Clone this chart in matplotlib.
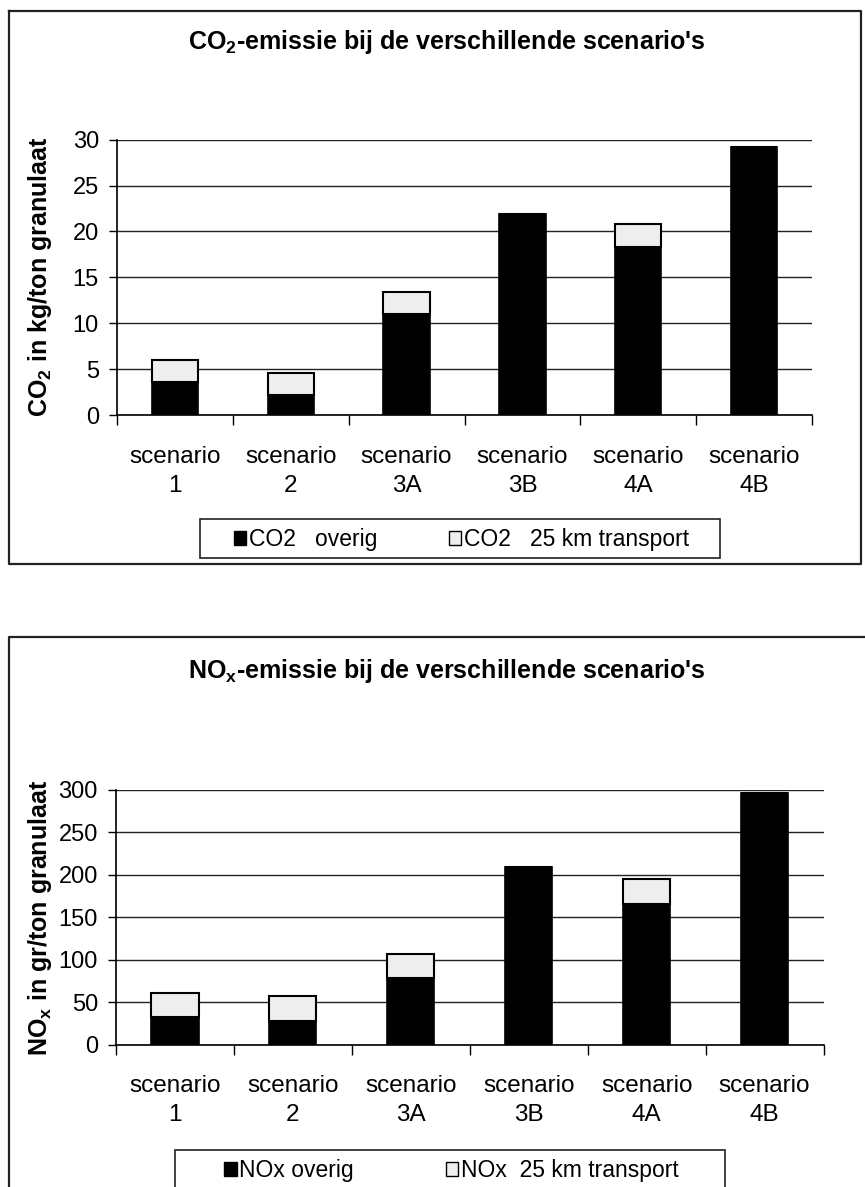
import matplotlib
matplotlib.use("Agg")
import matplotlib.pyplot as plt
from matplotlib.patches import Rectangle, Patch
from matplotlib.lines import Line2D

plt.rcParams['font.family'] = ['Liberation Sans', 'DejaVu Sans']
plt.rcParams['mathtext.fontset'] = 'custom'
plt.rcParams['mathtext.rm'] = 'Liberation Sans'
plt.rcParams['mathtext.bf'] = 'Liberation Sans:bold'

# data
scenarios = ['scenario\n1', 'scenario\n2', 'scenario\n3A',
             'scenario\n3B', 'scenario\n4A', 'scenario\n4B']
co2_overig = [3.65, 2.2, 11.05, 21.85, 18.35, 29.2]
co2_transport = [2.4, 2.45, 2.4, 0, 2.45, 0]
nox_overig = [32, 28, 78, 209, 166, 297]
nox_transport = [29, 29, 29, 0, 29, 0]

W, H = 865, 1187
fig = plt.figure(figsize=(W / 100, H / 100), dpi=100)


def fx(x):
    return x / W


def fy(y):
    return 1 - y / H


def frame_line(xs, ys):
    fig.add_artist(Line2D([fx(v) for v in xs], [fy(v) for v in ys],
                          color='#222222', lw=1.6))


def bar_chart(box, overig, transport, ymax, step):
    l, t, r, b = box
    ax = fig.add_axes([fx(l), fy(b), fx(r - l), (b - t) / H])
    pos = [i + 0.5 for i in range(len(scenarios))]
    ax.bar(pos, overig, width=0.4, color='black', edgecolor='black', lw=1.2, zorder=3)
    ax.bar(pos, transport, width=0.4, bottom=overig, color='#eeeeee',
           edgecolor='black', lw=1.5, zorder=3)
    ax.set_xlim(0, len(scenarios))
    ax.set_ylim(0, ymax)
    ax.set_yticks(range(0, ymax + 1, step))
    ax.yaxis.grid(True, color='#222222', lw=1.0)
    ax.set_axisbelow(True)
    ax.set_xticks(pos)
    ax.set_xticklabels(scenarios, fontsize=17.5, linespacing=1.38)
    ax.set_xticks(range(len(scenarios) + 1), minor=True)
    ax.tick_params(axis='x', which='major', length=0, pad=22)
    ax.tick_params(axis='x', which='minor', length=7, width=1, direction='out')
    ax.tick_params(axis='y', labelsize=17, length=6, width=1, pad=7)
    for s in ('top', 'right'):
        ax.spines[s].set_visible(False)
    for s in ('left', 'bottom'):
        ax.spines[s].set_linewidth(1.2)
    return ax


def legend(cx, cy, labels, colsp):
    handles = [Patch(facecolor='black', edgecolor='black', lw=1),
               Patch(facecolor='#eeeeee', edgecolor='black', lw=1)]
    fig.legend(handles, labels, loc='center', bbox_to_anchor=(fx(cx), fy(cy)),
               ncol=2, frameon=False, fontsize=16.5, borderpad=0,
               handlelength=0.55, handleheight=0.55, handletextpad=0.12,
               columnspacing=colsp)


# CO2 chart
frame_line([9, 861, 861, 9, 9], [11, 11, 564, 564, 11])
fig.text(fx(447), fy(42), r"CO$_\mathbf{2}$-emissie bij de verschillende scenario's",
         ha='center', va='center', fontsize=18, fontweight='bold')
bar_chart((117, 139.5, 812, 415.5), co2_overig, co2_transport, 30, 5)
fig.text(fx(40), fy(277), r'CO$_\mathbf{2}$ in kg/ton granulaat', rotation=90,
         ha='center', va='center', fontsize=18, fontweight='bold')
fig.add_artist(Rectangle((fx(200), fy(558)), fx(520), 39 / H, fill=False,
                         edgecolor='#222222', lw=1.2))
legend(461.5, 540, ['CO2   overig', 'CO2   25 km transport'], 3.1)

# NOx chart
frame_line([900, 9, 9], [637, 637, 1250])
fig.text(fx(447), fy(671), r"NO$_\mathbf{x}$-emissie bij de verschillende scenario's",
         ha='center', va='center', fontsize=18, fontweight='bold')
bar_chart((116, 790, 823.5, 1044.5), nox_overig, nox_transport, 300, 50)
fig.text(fx(40), fy(918), r'NO$_\mathbf{x}$ in gr/ton granulaat', rotation=90,
         ha='center', va='center', fontsize=18, fontweight='bold')
fig.add_artist(Rectangle((fx(175), fy(1220)), fx(550), 70 / H, fill=False,
                         edgecolor='#222222', lw=1.2))
legend(451.5, 1171, ['NOx overig', 'NOx  25 km transport'], 4.0)

fig.savefig('out.png', dpi=100)
